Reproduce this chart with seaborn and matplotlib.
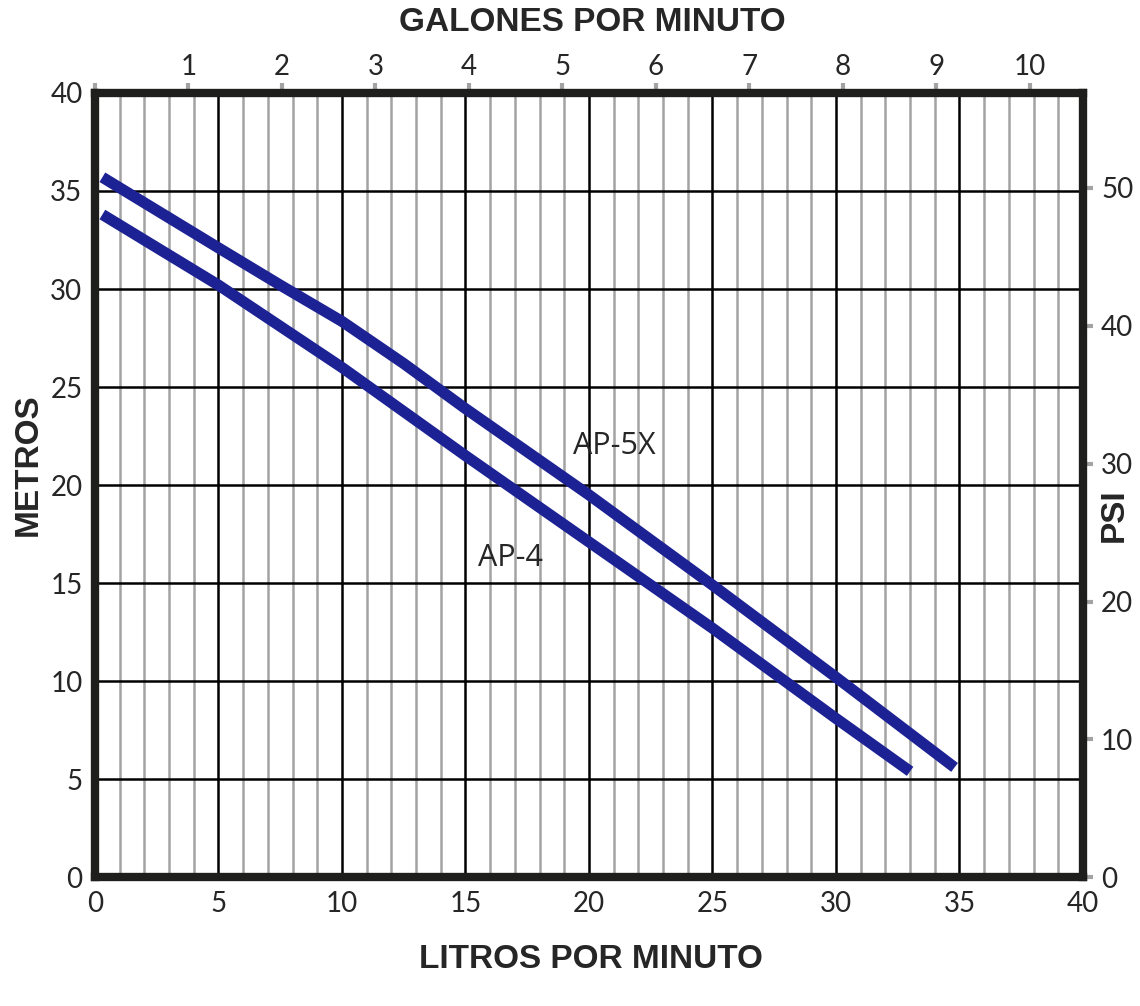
import pandas as pd
import matplotlib
matplotlib.use("Agg")
import matplotlib.pyplot as plt
from matplotlib.ticker import MultipleLocator, FixedLocator
import seaborn as sns

# curvas (litros por minuto vs metros)
ap5x_lpm = [0.3, 5, 7.5, 10, 12.5, 15, 20, 25, 30, 34.8]
ap5x_m = [35.7, 32.1, 30.2, 28.35, 26.2, 23.9, 19.5, 14.9, 10.2, 5.6]
ap4_lpm = [0.3, 5, 10, 15, 20, 25, 30, 33.0]
ap4_m = [33.8, 30.2, 26.0, 21.5, 17.1, 12.7, 8.1, 5.4]

x_ticks = [0, 5, 10, 15, 20, 25, 30, 35, 40]
y_ticks = [0, 5, 10, 15, 20, 25, 30, 35, 40]
gal_ticks = [0, 1, 2, 3, 4, 5, 6, 7, 8, 9, 10]
psi_ticks = [0, 10, 20, 30, 40, 50]

L_POR_GAL = 3.785
PSI_POR_M = 1.4223

df = pd.concat([
    pd.DataFrame({"lpm": ap5x_lpm, "m": ap5x_m, "modelo": "AP-5X"}),
    pd.DataFrame({"lpm": ap4_lpm, "m": ap4_m, "modelo": "AP-4"}),
])

sns.set_style("white")
plt.rcParams["font.family"] = ["Lato", "DejaVu Sans"]

azul = "#1c2194"
gris = "#a3a3a3"
marco = "#1e1e1c"
titulo = dict(fontsize=24, fontweight="bold", fontstretch="condensed",
              family=["Liberation Sans", "DejaVu Sans"], ha="center", va="center")

fig = plt.figure(figsize=(11.4, 10.06), dpi=100)
ax = fig.add_axes([0.0833, 0.128, 0.8667, 0.7796])

sns.lineplot(data=df, x="lpm", y="m", hue="modelo",
             palette={"AP-5X": azul, "AP-4": azul}, linewidth=8,
             legend=False, ax=ax, solid_capstyle="butt",
             solid_joinstyle="round", zorder=5)

ax.set_xlim(0, 40)
ax.set_ylim(0, 40)
ax.xaxis.set_major_locator(FixedLocator(x_ticks))
ax.yaxis.set_major_locator(FixedLocator(y_ticks))
ax.xaxis.set_minor_locator(MultipleLocator(1))
ax.set_axisbelow(True)
ax.grid(which="major", color="black", linewidth=1.8)
ax.grid(which="minor", axis="x", color=gris, linewidth=1.8)

for s in ax.spines.values():
    s.set_color(marco)
    s.set_linewidth(6)

ax.tick_params(axis="x", which="major", direction="out", length=6, width=3,
               color=gris, labelsize=20, pad=4)
ax.tick_params(axis="x", which="minor", length=0)
ax.tick_params(axis="y", which="major", direction="out", length=5, width=2,
               color=marco, labelsize=20, pad=4)
ax.set_xlabel("")
ax.set_ylabel("")

# eje superior: galones por minuto
ax_top = ax.secondary_xaxis("top", functions=(lambda v: v / L_POR_GAL,
                                                lambda v: v * L_POR_GAL))
ax_top.xaxis.set_major_locator(FixedLocator(gal_ticks))
ax_top.set_xticklabels([""] + [str(t) for t in gal_ticks[1:]])
ax_top.tick_params(direction="out", length=7, width=3, color=gris,
                   labelsize=20, pad=2)
ax_top.spines["top"].set_visible(False)

# eje derecho: PSI
ax_r = ax.secondary_yaxis("right", functions=(lambda v: v * PSI_POR_M,
                                               lambda v: v / PSI_POR_M))
ax_r.yaxis.set_major_locator(FixedLocator(psi_ticks))
ax_r.tick_params(direction="out", length=7, width=3, color=gris,
                 labelsize=20, pad=6)
ax_r.spines["right"].set_visible(False)

ax.text(19.35, 22.0, "AP-5X", fontsize=22, family=["Open Sans", "DejaVu Sans"],
        va="center", ha="left", zorder=6)
ax.text(15.5, 16.3, "AP-4", fontsize=22, family=["Open Sans", "DejaVu Sans"],
        va="center", ha="left", zorder=6)

fig.text(0.52, 0.978, "GALONES POR MINUTO", **titulo)
fig.text(0.518, 0.046, "LITROS POR MINUTO", **titulo)
fig.text(0.025, 0.538, "METROS", rotation=90, **titulo)
fig.text(0.977, 0.488, "PSI", rotation=90, **titulo)

fig.savefig("out.png", dpi=100)
